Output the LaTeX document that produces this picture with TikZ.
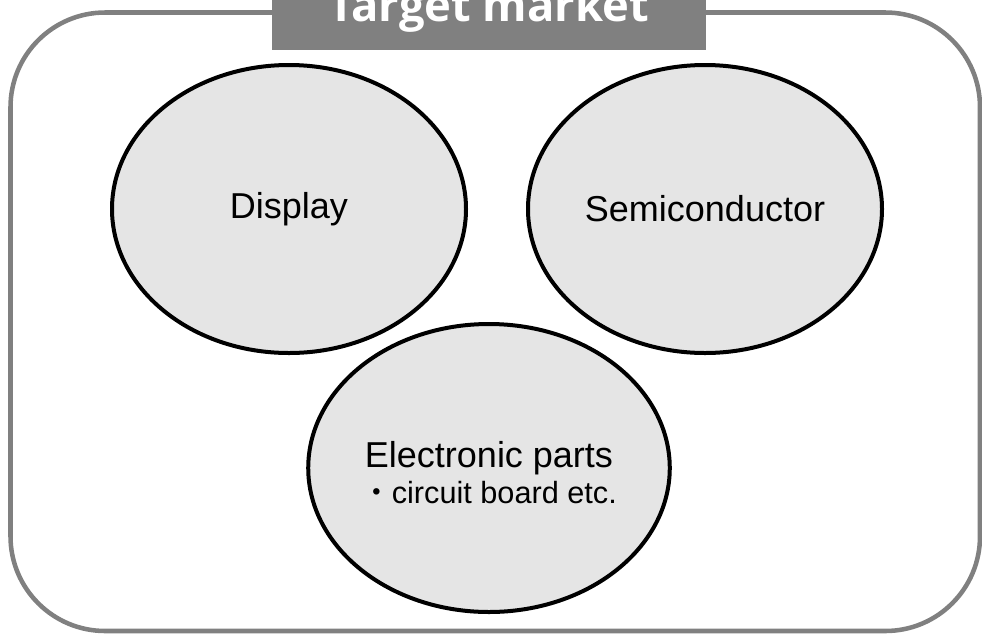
\documentclass[tikz,border=0pt]{standalone}
\usepackage{fontspec}
\setmainfont{Liberation Sans}
\newfontfamily\titlefont{Open Sans}
\newfontfamily\cjk{Noto Sans CJK JP}
\usetikzlibrary{shapes.geometric,positioning}
\tikzset{
    market/.style={ellipse, draw=black, line width=3pt, fill=black!10,
        minimum width=265.5pt, minimum height=216pt, inner sep=0pt,
        font=\fontsize{27}{27}\selectfont, align=center},
    frame/.style={draw=gray, line width=3.4pt, rounded corners=71pt},
    titlebar/.style={fill=gray, text=white, inner sep=0pt,
        minimum width=325.5pt, minimum height=60pt,
        font=\titlefont\bfseries\fontsize{34}{34}\selectfont},
}

\begin{document}
\begin{tikzpicture}[x=0.75pt, y=-0.75pt]
    \useasboundingbox (0,0) rectangle (982,633);

    % outer frame
    \draw[frame] (10.5,12.5) rectangle (980,631);

    % title bar, cut by the top edge
    \node[titlebar] (title) at (489,10) {Target market};

    % the three markets
    \node[market] (display) at (289,209) {Display};
    \node[market] (semi) at (705,209) {Semiconductor};
    \node[market] (parts) at (489,468)
        {\rule{0pt}{27pt}Electronic parts\\{\fontsize{23}{27}\selectfont{\cjk ・}circuit board etc.}};
\end{tikzpicture}
\end{document}
